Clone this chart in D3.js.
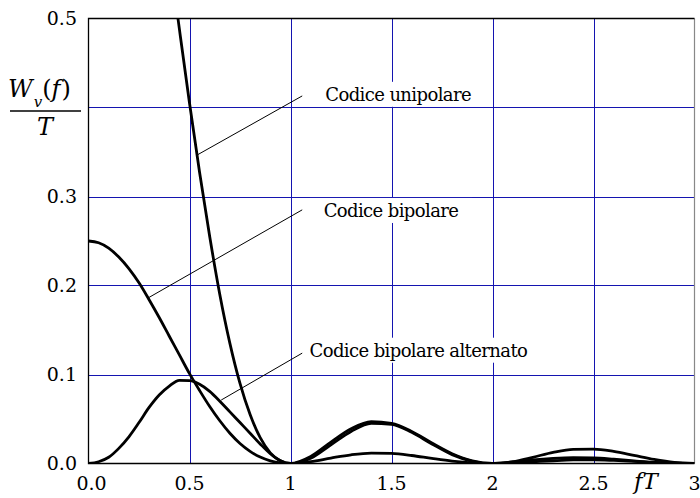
<!DOCTYPE html>
<html lang="it">
<head>
<meta charset="utf-8">
<title>Densità spettrale dei codici di linea</title>
<script src="https://d3js.org/d3.v7.min.js"></script>
<style>
  body { margin: 0; background: #fff; }
</style>
</head>
<body>
<script>
// valori
var fT = [0, 0.05, 0.1, 0.15, 0.2, 0.25, 0.3, 0.35, 0.4, 0.45, 0.5, 0.55, 0.6, 0.65, 0.7, 0.75, 0.8, 0.85, 0.9, 0.95, 1.0,
          1.1, 1.2, 1.3, 1.4, 1.5, 1.6, 1.7, 1.8, 1.9, 2.0, 2.1, 2.2, 2.3, 2.4, 2.5, 2.6, 2.7, 2.8, 2.9, 3.0];

var unipolare = [1.0, 0.992, 0.968, 0.928, 0.875, 0.811, 0.737, 0.657, 0.573, 0.488, 0.405, 0.327, 0.255, 0.190, 0.135, 0.090, 0.055, 0.029, 0.012, 0.003, 0,
                 0.008, 0.024, 0.039, 0.047, 0.045, 0.036, 0.023, 0.011, 0.003, 0, 0.002, 0.007, 0.0125, 0.0159, 0.0162, 0.0136, 0.0091, 0.0045, 0.0012, 0];

var bipolare = [0.25, 0.248, 0.242, 0.232, 0.219, 0.203, 0.184, 0.164, 0.143, 0.122, 0.101, 0.082, 0.064, 0.048, 0.034, 0.0225, 0.0137, 0.0072, 0.0030, 0.0007, 0,
                0.0020, 0.0061, 0.0098, 0.0117, 0.0113, 0.0090, 0.0057, 0.0027, 0.0007, 0, 0.0005, 0.0018, 0.0031, 0.0040, 0.0041, 0.0034, 0.0023, 0.0011, 0.0003, 0];

var alternato = [0, 0.002, 0.007, 0.017, 0.030, 0.046, 0.063, 0.077, 0.087, 0.0935, 0.093, 0.089, 0.081, 0.070, 0.058, 0.046, 0.034, 0.022, 0.011, 0.003, 0,
                 0.006, 0.021, 0.036, 0.045, 0.044, 0.035, 0.022, 0.010, 0.0025, 0, 0.0015, 0.004, 0.0057, 0.0065, 0.0062, 0.0048, 0.003, 0.0013, 0.0003, 0];

var xTicks = [0, 0.5, 1, 1.5, 2, 2.5, 3];
var xTickLabels = ["0.0", "0.5", "1", "1.5", "2", "2.5", "3"];
var yTicks = [0, 0.1, 0.2, 0.3, 0.5];
var yTickLabels = ["0.0", "0.1", "0.2", "0.3", "0.5"];
var xGrid = [0.5, 1, 1.5, 2, 2.5];
var yGrid = [0.1, 0.2, 0.3, 0.4];
var curveNames = ["Codice unipolare", "Codice bipolare", "Codice bipolare alternato"];

var width = 700,
    height = 498;
var serif = "DejaVu Serif";

var x = d3.scaleLinear().domain([0, 3]).range([88.5, 694.5]);
var y = d3.scaleLinear().domain([0, 0.5]).range([463.5, 18.5]);

var svg = d3.select("body").append("svg")
    .attr("width", width)
    .attr("height", height);

svg.append("defs").append("clipPath")
    .attr("id", "plot")
  .append("rect")
    .attr("x", x(0)).attr("y", y(0.5))
    .attr("width", x(3) - x(0)).attr("height", y(0) - y(0.5));

// griglia
var grid = svg.append("g").attr("stroke", "#1414b0").attr("stroke-width", 1);
grid.selectAll(".gx").data(xGrid).enter().append("line")
    .attr("x1", function(d) { return Math.round(x(d)) + 0.5; })
    .attr("x2", function(d) { return Math.round(x(d)) + 0.5; })
    .attr("y1", y(0.5)).attr("y2", y(0));
grid.selectAll(".gy").data(yGrid).enter().append("line")
    .attr("x1", x(0)).attr("x2", x(3))
    .attr("y1", function(d) { return Math.round(y(d)) + 0.5; })
    .attr("y2", function(d) { return Math.round(y(d)) + 0.5; });

// cornice
svg.append("line").attr("x1", x(3)).attr("x2", x(3)).attr("y1", y(0.5)).attr("y2", y(0))
    .attr("stroke", "#888").attr("stroke-width", 1.2);
svg.append("path")
    .attr("d", "M" + x(3) + "," + y(0.5) + "H" + x(0) + "V" + y(0) + "H" + x(3))
    .attr("fill", "none").attr("stroke", "#000").attr("stroke-width", 1.3);

// etichette delle curve, con linee di richiamo
var notes = [
  { from: [0.533, 0.346], to: [1.058, 0.413], at: [1.172, 0.4075] },
  { from: [0.295, 0.186], to: [1.058, 0.285], at: [1.164, 0.277] },
  { from: [0.657, 0.0713], to: [1.058, 0.124], at: [1.094, 0.12] }
];

var ann = svg.append("g");
notes.forEach(function(n, i) {
  var t = ann.append("text")
      .attr("x", x(n.at[0])).attr("y", y(n.at[1]))
      .attr("font-family", serif)
      .attr("font-size", 18)
      .attr("letter-spacing", -0.6)
      .text(curveNames[i]);
  var b = t.node().getBBox();
  ann.insert("rect", "text")
      .attr("x", b.x - 14).attr("y", b.y - 2)
      .attr("width", b.width + 28).attr("height", b.height + 4)
      .attr("fill", "#fff");
  ann.append("line")
      .attr("x1", x(n.from[0])).attr("y1", y(n.from[1]))
      .attr("x2", x(n.to[0])).attr("y2", y(n.to[1]))
      .attr("stroke", "#000").attr("stroke-width", 1);
});

// curve
var line = d3.line()
    .x(function(d) { return x(d[0]); })
    .y(function(d) { return y(d[1]); })
    .curve(d3.curveMonotoneX);

[unipolare, bipolare, alternato].forEach(function(s) {
  svg.append("path")
      .datum(fT.map(function(f, i) { return [f, s[i]]; }))
      .attr("clip-path", "url(#plot)")
      .attr("d", line)
      .attr("fill", "none")
      .attr("stroke", "#000")
      .attr("stroke-width", 2.8)
      .attr("stroke-linejoin", "round");
});

// etichette degli assi
svg.append("g").selectAll("text").data(yTicks).enter().append("text")
    .attr("x", 77)
    .attr("y", function(d) { return y(d); })
    .attr("dy", "0.35em")
    .attr("text-anchor", "end")
    .attr("font-family", serif)
    .attr("font-size", 19)
    .text(function(d, i) { return yTickLabels[i]; });

svg.append("g").selectAll("text").data(xTicks).enter().append("text")
    .attr("x", function(d) { return x(d) + (d === 0 ? 3 : 0); })
    .attr("y", 490)
    .attr("text-anchor", "middle")
    .attr("font-family", serif)
    .attr("font-size", 19)
    .text(function(d, i) { return xTickLabels[i]; });

svg.append("text")
    .attr("x", 634).attr("y", 489)
    .attr("font-family", serif)
    .attr("font-size", 23).attr("font-style", "italic")
    .text("fT");

// titolo asse y: W_v(f) / T
var yt = svg.append("text").attr("x", 8).attr("y", 97)
    .attr("font-family", serif).attr("font-size", 24);
yt.append("tspan").attr("font-style", "italic").text("W");
yt.append("tspan").attr("font-style", "italic").attr("font-size", 15).attr("dy", 10).attr("dx", 1).text("v");
yt.append("tspan").attr("dy", -10).attr("dx", 0).text("(");
yt.append("tspan").attr("font-style", "italic").text("f");
yt.append("tspan").attr("dx", 1).text(")");

svg.append("line").attr("x1", 10).attr("x2", 81).attr("y1", 111).attr("y2", 111)
    .attr("stroke", "#000").attr("stroke-width", 1.3);

svg.append("text")
    .attr("x", 45).attr("y", 135)
    .attr("text-anchor", "middle")
    .attr("font-family", serif)
    .attr("font-size", 24).attr("font-style", "italic")
    .text("T");
</script>
</body>
</html>
